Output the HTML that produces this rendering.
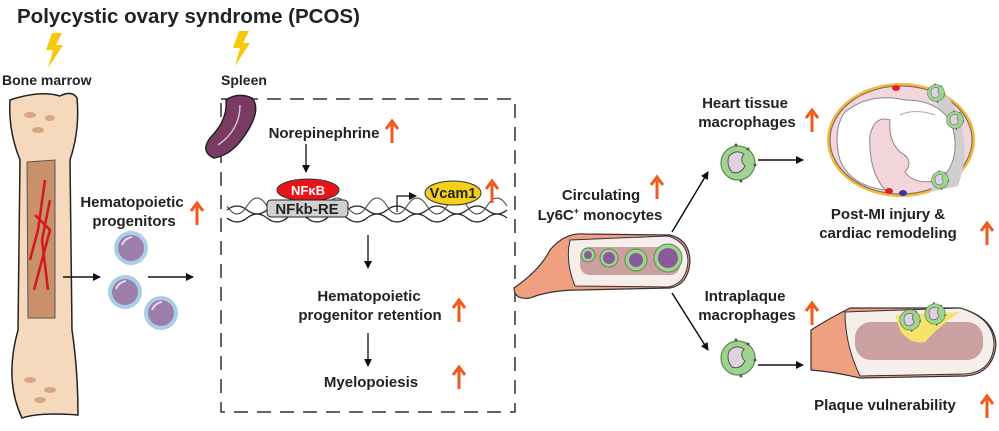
<!DOCTYPE html>
<html><head><meta charset="utf-8"><style>
body{margin:0;background:#fff}
svg{display:block}
text{font-family:"Liberation Sans",Arial,sans-serif;font-weight:bold;fill:#222}
</style></head><body>
<svg width="999" height="431" viewBox="0 0 999 431" xmlns="http://www.w3.org/2000/svg">
<defs>
<marker id="ah" markerWidth="8" markerHeight="8" refX="7" refY="4" orient="auto" markerUnits="userSpaceOnUse"><path d="M0,0 L8,4 L0,8 z" fill="#111"/></marker>
<g id="up"><line x1="0" y1="22" x2="0" y2="3" stroke="#f25a1c" stroke-width="3"/><path d="M-6,8 L0,0 L6,8" fill="none" stroke="#f25a1c" stroke-width="3"/></g>
<g id="bolt"><path d="M6,0 L16,0 L10,12 L17,12 L2,35 L7,17 L0,17 z" fill="#f7c90c"/></g>
<g id="mac"><circle r="17" fill="#9fd38f" stroke="#5a8a50" stroke-width="1.2"/><path d="M-9,-7 Q-2,-14 6,-9 Q1,-3 7,3 Q2,12 -6,9 Q-12,2 -9,-7z" fill="#ddd3e0" stroke="#555" stroke-width="1"/><circle cx="10" cy="-14" r="1.5" fill="#555"/><circle cx="-2" cy="-18" r="1.5" fill="#555"/><circle cx="17" cy="2" r="1.5" fill="#555"/><circle cx="3" cy="18" r="1.5" fill="#555"/></g>
<g id="cell"><circle r="17" fill="#a9cfe6"/><circle r="13" fill="#9c7eab"/><path d="M-9,-3 Q-6,-10 1,-11" stroke="#e6d8ee" stroke-width="2" fill="none"/></g>
</defs>

<text x="17" y="23" font-size="20.5">Polycystic ovary syndrome (PCOS)</text>
<use href="#bolt" x="46" y="33"/>
<use href="#bolt" x="233" y="31"/>
<text x="2" y="85" font-size="14">Bone marrow</text>
<text x="221" y="85" font-size="14">Spleen</text>

<!-- bone -->
<path d="M10,100 Q40,90 60,96 Q72,90 77,98 Q80,130 70,160 L72,330 Q78,370 78,415 Q40,412 22,418 Q4,380 18,330 L20,160 Q8,130 10,100z" fill="#f6d9bc" stroke="#222" stroke-width="1.5"/>
<path d="M27,162 L55,160 L55,318 L28,318z" fill="#c8916a" stroke="#555"/>
<path d="M45,180 L38,230 L30,260 M50,200 L42,240 L48,290 M35,215 L50,230 L34,290" stroke="#d21a1a" stroke-width="2.5" fill="none"/>
<g fill="#d9a583"><ellipse cx="30" cy="115" rx="6" ry="3"/><ellipse cx="50" cy="118" rx="5" ry="3"/><ellipse cx="38" cy="130" rx="6" ry="3"/><ellipse cx="30" cy="380" rx="6" ry="3"/><ellipse cx="50" cy="390" rx="6" ry="3"/><ellipse cx="40" cy="400" rx="6" ry="3"/></g>

<line x1="63" y1="277" x2="100" y2="277" stroke="#111" stroke-width="1.5" marker-end="url(#ah)"/>
<line x1="148" y1="277" x2="193" y2="277" stroke="#111" stroke-width="1.5" marker-end="url(#ah)"/>
<use href="#cell" x="131" y="248"/>
<use href="#cell" x="125" y="292"/>
<use href="#cell" x="161" y="313"/>
<text x="132" y="207" font-size="15" text-anchor="middle">Hematopoietic</text>
<text x="134" y="226" font-size="15" text-anchor="middle">progenitors</text>
<use href="#up" x="197" y="203"/>

<!-- dashed box -->
<rect x="221" y="99" width="294" height="313" fill="none" stroke="#333" stroke-width="1.5" stroke-dasharray="14,9"/>
<path d="M226,100 Q238,92 252,98 Q262,110 245,135 Q232,155 214,158 Q200,152 210,138 Q228,120 226,100z" fill="#7a3b63" stroke="#222" stroke-width="1.5"/>
<path d="M240,105 Q240,130 218,145" stroke="#d9b8cf" stroke-width="1.5" fill="none"/>

<text x="324" y="138" font-size="15" text-anchor="middle">Norepinephrine</text>
<use href="#up" x="392" y="121"/>
<line x1="306" y1="144" x2="306" y2="172" stroke="#111" stroke-width="1.3" marker-end="url(#ah)"/>
<!-- DNA -->
<path d="M227,210 q10,-8 20,0 t20,0 t20,0 t20,0 t20,0 t20,0 t20,0 t20,0 t20,0 t20,0 t20,0 t20,0 t20,0 t20,0" fill="none" stroke="#222" stroke-width="1.3"/>
<path d="M227,218 q10,8 20,0 t20,0 t20,0 t20,0 t20,0 t20,0 t20,0 t20,0 t20,0 t20,0 t20,0 t20,0 t20,0 t20,0" fill="none" stroke="#222" stroke-width="1.3"/>
<path d="M227,206 q10,16 20,0 t20,0 t20,0 t20,0 t20,0 t20,0 t20,0 t20,0 t20,0 t20,0 t20,0 t20,0 t20,0 t20,0" fill="none" stroke="#444" stroke-width="1"/>
<ellipse cx="308" cy="190" rx="31" ry="11" fill="#e8141b" stroke="#333"/>
<text x="308" y="195" font-size="13" text-anchor="middle" style="fill:#fff">NFκB</text>
<rect x="267" y="200" width="81" height="17" rx="4" fill="#d0d0d0" stroke="#222"/>
<text x="307" y="214" font-size="15" text-anchor="middle">NFkb-RE</text>
<path d="M397,212 L397,196 L416,196" fill="none" stroke="#111" stroke-width="1.2" marker-end="url(#ah)"/>
<ellipse cx="453" cy="193" rx="28" ry="12" fill="#f5cf1a" stroke="#333"/>
<text x="453" y="198" font-size="14.5" text-anchor="middle">Vcam1</text>
<use href="#up" x="492" y="181"/>
<line x1="368" y1="235" x2="368" y2="268" stroke="#111" stroke-width="1.3" marker-end="url(#ah)"/>
<text x="369" y="301" font-size="15" text-anchor="middle">Hematopoietic</text>
<text x="370" y="320" font-size="15" text-anchor="middle">progenitor retention</text>
<use href="#up" x="459" y="300"/>
<line x1="368" y1="333" x2="368" y2="366" stroke="#111" stroke-width="1.3" marker-end="url(#ah)"/>
<text x="371" y="387" font-size="15" text-anchor="middle">Myelopoiesis</text>
<use href="#up" x="459" y="367"/>

<!-- circulating -->
<text x="601" y="200" font-size="15" text-anchor="middle">Circulating</text>
<text x="600" y="220" font-size="15" text-anchor="middle">Ly6C<tspan font-size="9" dy="-6">+</tspan><tspan dy="6"> monocytes</tspan></text>
<use href="#up" x="657" y="177"/>
<path d="M514,288 Q540,270 550,250 Q565,232 585,234 L670,235 Q690,240 690,262 Q688,285 670,288 L580,290 Q550,290 530,298 Q514,300 514,288z" fill="#f0a080" stroke="#333" stroke-width="1.2"/>
<path d="M570,240 L668,236 Q688,242 688,262 Q686,284 668,287 L575,286 Q565,262 570,240z" fill="#f5eeea" stroke="#333"/>
<rect x="580" y="247" width="100" height="28" rx="10" fill="#caa0a0"/>
<g fill="#9fd38f" stroke="#5a8a50"><circle cx="588" cy="255" r="7"/><circle cx="609" cy="258" r="9"/><circle cx="636" cy="260" r="11"/><circle cx="668" cy="258" r="14"/></g>
<g fill="#8a5a9a"><circle cx="588" cy="255" r="4"/><circle cx="609" cy="258" r="6"/><circle cx="636" cy="260" r="7"/><circle cx="668" cy="258" r="10"/></g>

<line x1="672" y1="232" x2="708" y2="172" stroke="#111" stroke-width="1.5" marker-end="url(#ah)"/>
<line x1="672" y1="293" x2="708" y2="350" stroke="#111" stroke-width="1.5" marker-end="url(#ah)"/>
<text x="745" y="108" font-size="15" text-anchor="middle">Heart tissue</text>
<text x="747" y="127" font-size="15" text-anchor="middle">macrophages</text>
<use href="#up" x="812" y="110"/>
<use href="#mac" x="738" y="163"/>
<line x1="758" y1="160" x2="803" y2="160" stroke="#111" stroke-width="1.5" marker-end="url(#ah)"/>
<text x="745" y="301" font-size="15" text-anchor="middle">Intraplaque</text>
<text x="747" y="320" font-size="15" text-anchor="middle">macrophages</text>
<use href="#up" x="812" y="303"/>
<use href="#mac" x="738" y="358"/>
<line x1="758" y1="365" x2="803" y2="365" stroke="#111" stroke-width="1.5" marker-end="url(#ah)"/>

<!-- heart -->
<ellipse cx="901" cy="140" rx="74" ry="57" fill="#f4b63a"/>
<ellipse cx="901" cy="140" rx="71" ry="54" fill="#f2d6dc" stroke="#666"/>
<path d="M948,96 Q975,140 958,186 L930,192 Q955,140 935,100z" fill="#cfcfcf"/>
<path d="M845,112 Q870,92 905,100 Q940,100 952,125 Q962,160 940,180 Q915,186 905,172 Q915,160 900,152 Q888,140 890,120 Q875,115 870,135 Q868,170 885,190 Q850,185 840,160 Q832,130 845,112z" fill="#fff" stroke="#888"/>
<path d="M900,115 Q915,108 935,115" stroke="#c9a" fill="none"/>
<use href="#mac" transform="translate(936,93) scale(0.5)"/>
<use href="#mac" transform="translate(955,120) scale(0.5)"/>
<use href="#mac" transform="translate(940,180) scale(0.5)"/>
<ellipse cx="896" cy="88" rx="4" ry="3" fill="#d22"/><ellipse cx="889" cy="191" rx="4" ry="3" fill="#d22"/><ellipse cx="903" cy="193" rx="4" ry="3" fill="#33a"/>
<text x="888" y="219" font-size="15" text-anchor="middle">Post-MI injury &amp;</text>
<text x="888" y="238" font-size="15" text-anchor="middle">cardiac remodeling</text>
<use href="#up" x="987" y="223"/>

<!-- plaque vessel -->
<path d="M811,370 L811,330 Q830,318 850,308 L960,308 Q995,318 996,345 Q993,374 965,376 L860,378 Q835,372 811,370z" fill="#f0a080" stroke="#333" stroke-width="1.2"/>
<path d="M845,312 L960,308 Q994,318 994,345 Q992,372 965,374 L860,376 Q845,345 845,312z" fill="#f5eeea" stroke="#333"/>
<rect x="855" y="322" width="128" height="38" rx="16" fill="#caa0a0"/>
<path d="M895,315 L960,312 Q940,325 925,342 Q910,345 900,330z" fill="#f5e36a"/>
<use href="#mac" transform="translate(910,320) scale(0.6)"/>
<use href="#mac" transform="translate(935,314) scale(0.6)"/>
<text x="885" y="410" font-size="15" text-anchor="middle">Plaque vulnerability</text>
<use href="#up" x="987" y="396"/>
</svg>
</body></html>
